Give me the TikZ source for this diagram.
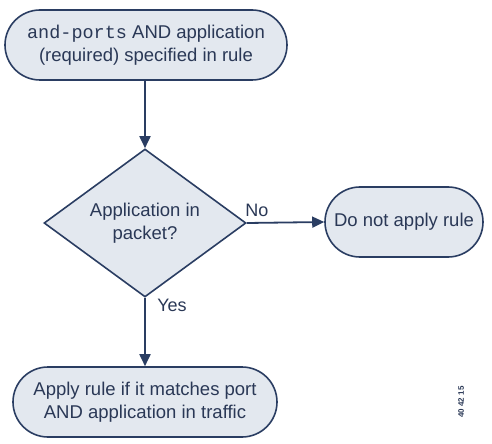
\documentclass[tikz,border=0pt]{standalone}
\usepackage{fontspec}
\setmainfont{Liberation Sans}
\setmonofont{Liberation Mono}
\usetikzlibrary{shapes.geometric,arrows.meta}
\definecolor{fillc}{HTML}{E3E8EF}
\definecolor{linec}{HTML}{2A3D62}
\definecolor{textc}{HTML}{2A3856}
\tikzset{
  term/.style={draw=linec, fill=fillc, line width=1.6bp, rounded corners=35bp,
    minimum height=70bp, align=center, text=textc, inner sep=0pt,
    font=\fontsize{18.5bp}{23bp}\selectfont},
  decide/.style={draw=linec, fill=fillc, line width=1.6bp, shape=diamond, aspect=1.365,
    minimum width=202bp, minimum height=148bp, align=center, text=textc, inner sep=0pt,
    font=\fontsize{18.5bp}{23bp}\selectfont},
  flow/.style={draw=linec, line width=1.8bp, -{Triangle[length=12bp,width=11bp]}},
  lbl/.style={text=textc, font=\fontsize{18bp}{21bp}\selectfont, inner sep=0pt}
}
\begin{document}
\begin{tikzpicture}[x=1bp,y=-1bp]
\useasboundingbox (0,0) rectangle (492,444);
\node[term, minimum width=282bp] (start) at (146,45)
  {{\ttfamily and-ports} AND application\\(required) specified in rule};
\node[decide] (dec) at (145,223) {Application in\\packet?};
\node[term, minimum width=158bp] (no) at (404,222) {Do not apply rule};
\node[term, minimum width=264bp] (yes) at (145,402)
  {Apply rule if it matches port\\AND application in traffic};
\draw[flow] (start.south -| dec.north) -- (dec.north);
\draw[flow] (dec.east) -- (no.west);
\draw[flow] (dec.south) -- (dec.south |- yes.north);
\node[lbl] (nolbl) at (257,210) {No};
\node[lbl] (yeslbl) at (172,305) {Yes};
\node[text=textc, font=\fontsize{8bp}{9bp}\selectfont\bfseries, rotate=90, inner sep=0pt] (id) at (461,402) {40 42 15};
\end{tikzpicture}
\end{document}
